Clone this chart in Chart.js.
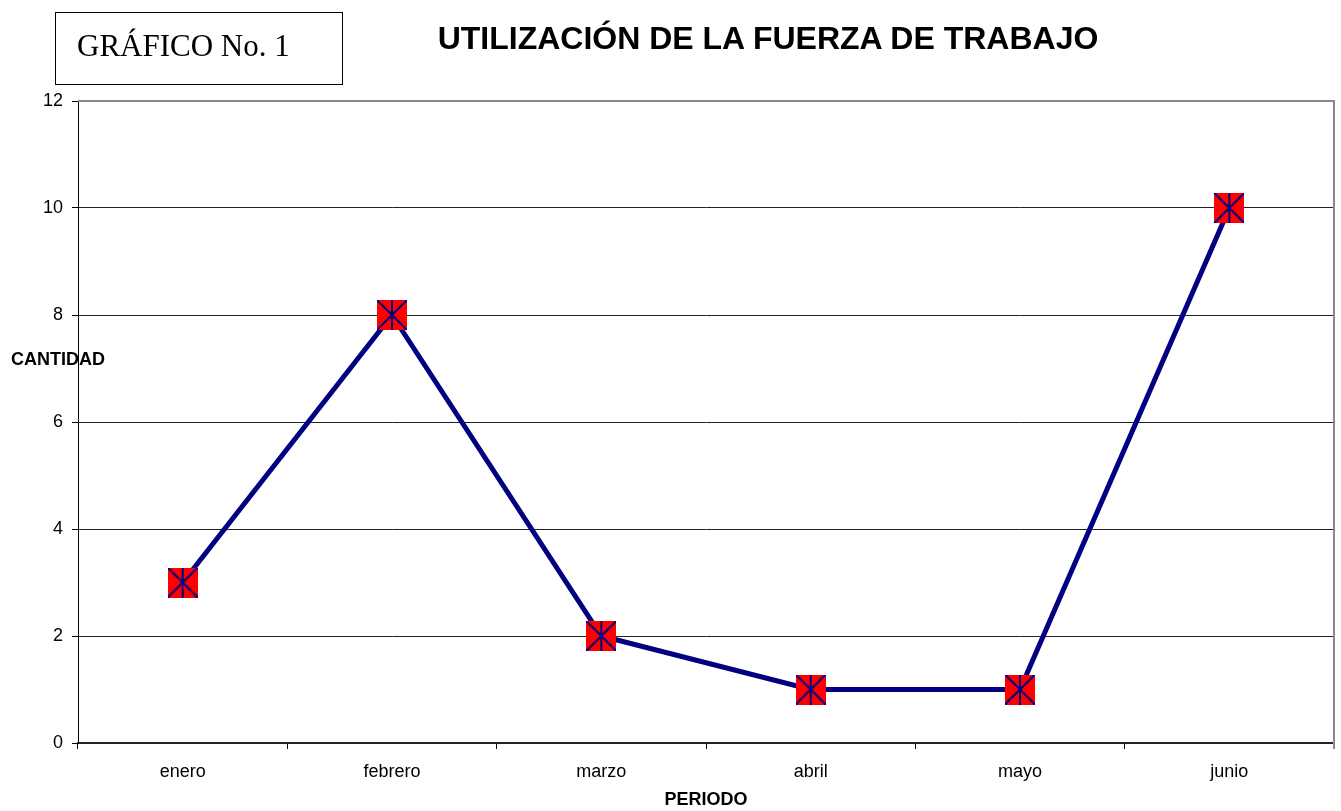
<!DOCTYPE html>
<html>
<head>
<meta charset="utf-8">
<script src="https://cdn.jsdelivr.net/npm/chart.js@4/dist/chart.umd.min.js"></script>
<style>
  body { margin: 0; background: #fff; }
  #wrap { position: relative; width: 1341px; height: 811px; }
  #box {
    position: absolute; left: 55px; top: 12px; width: 288px; height: 73px;
    box-sizing: border-box; border: 1.5px solid #000;
    font: 31px "Liberation Serif", "Times New Roman", serif; color: #000;
    padding-left: 21px; line-height: 66px;
  }
  #title {
    position: absolute; left: 768px; top: 20px; transform: translateX(-50%);
    font: bold 32px "Liberation Sans", Arial, sans-serif; color: #000; white-space: nowrap;
  }
  #ylab {
    position: absolute; left: 11px; top: 349px;
    font: bold 18px "Liberation Sans", Arial, sans-serif; color: #000;
  }
</style>
</head>
<body>
<div id="wrap">
  <canvas id="myChart" width="1341" height="811"></canvas>
  <div id="box">GRÁFICO No. 1</div>
  <div id="title">UTILIZACIÓN DE LA FUERZA DE TRABAJO</div>
  <div id="ylab">CANTIDAD</div>
</div>
<script>
// data
const meses = ['enero', 'febrero', 'marzo', 'abril', 'mayo', 'junio'];
const cantidad = [3, 8, 2, 1, 1, 10];

// marker: red square with navy X and vertical bar
function makeMarker() {
  const s = 30;
  const c = document.createElement('canvas');
  c.width = s; c.height = s;
  const g = c.getContext('2d');
  g.fillStyle = '#ff0000';
  g.fillRect(0, 0, s, s);
  g.strokeStyle = '#000080';
  g.lineWidth = 2;
  g.beginPath();
  g.moveTo(0, 0); g.lineTo(s, s);
  g.moveTo(s, 0); g.lineTo(0, s);
  g.moveTo(s / 2, 0); g.lineTo(s / 2, s);
  g.stroke();
  return c;
}

// gray border on top and right of plot
const frame = {
  id: 'frame',
  beforeDatasetsDraw(chart) {
    const { ctx, chartArea: a } = chart;
    ctx.save();
    ctx.strokeStyle = '#888';
    ctx.lineWidth = 2;
    ctx.beginPath();
    ctx.moveTo(a.left, a.top);
    ctx.lineTo(a.right, a.top);
    ctx.lineTo(a.right, a.bottom + 6);
    ctx.stroke();
    ctx.restore();
  }
};

const font = { family: '"Liberation Sans", Arial, sans-serif', size: 18 };

const config = {
  type: 'line',
  data: {
    labels: meses,
    datasets: [{
      data: cantidad,
      borderColor: '#000080',
      borderWidth: 5,
      tension: 0,
      pointStyle: makeMarker(),
      pointRadius: 1,
      pointHoverRadius: 1,
      clip: false
    }]
  },
  options: {
    responsive: false,
    animation: false,
    layout: { padding: { top: 101, right: 7, left: 0, bottom: 0 } },
    plugins: { legend: { display: false }, tooltip: { enabled: false } },
    scales: {
      x: {
        offset: true,
        afterFit(scale) {
          scale.height = 68;
          scale.paddingLeft = 0;
          scale.paddingRight = 0;
        },
        grid: {
          offset: true,
          drawOnChartArea: false,
          tickLength: 6,
          tickColor: '#000'
        },
        border: { color: '#222', width: 2 },
        ticks: { color: '#000', font, padding: 12 },
        title: {
          display: true,
          text: 'PERIODO',
          color: '#000',
          font: { family: font.family, size: 18, weight: 'bold' },
          padding: { top: 0, bottom: 0 }
        }
      },
      y: {
        min: 0,
        max: 12,
        afterFit(scale) { scale.width = 78; },
        grid: {
          color: (c) => c.tick && c.tick.value === 12 ? 'rgba(0,0,0,0)' : '#222',
          tickLength: 6,
          tickColor: '#000'
        },
        border: { color: '#000', width: 1 },
        ticks: { stepSize: 2, color: '#000', font, padding: 9 }
      }
    }
  },
  plugins: [frame]
};

new Chart(document.getElementById('myChart'), config);
</script>
</body>
</html>
